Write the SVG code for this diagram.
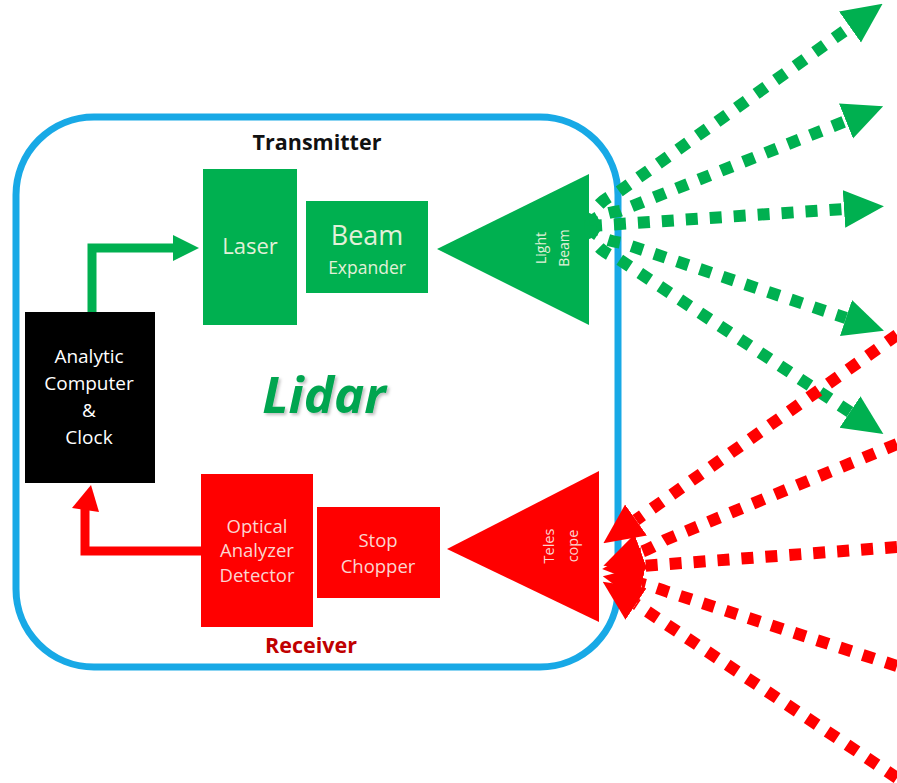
<svg xmlns="http://www.w3.org/2000/svg" width="897" height="783" viewBox="0 0 897 783">
  <style>
    .lbl { font-family: "Open Sans", "Noto Sans", "Liberation Sans", sans-serif; text-anchor: middle; }
    .gtxt { fill: #E2F0D9; }
    .rtxt { fill: #FBD5D0; }
    .wtxt { fill: #FFFFFF; }
    .green { fill: #00B050; }
    .red { fill: #FF0000; }
    .beam-out { fill: none; stroke: #00B050; stroke-width: 12; stroke-dasharray: 12 12; marker-end: url(#gHead); }
    .beam-in { fill: none; stroke: #FF0000; stroke-width: 12; stroke-dasharray: 12 12; marker-end: url(#rHead); }
  </style>
  <defs>
    <marker id="gHead" markerUnits="userSpaceOnUse" markerWidth="40" markerHeight="40" refX="0" refY="17" orient="auto" viewBox="0 0 36 34">
      <path d="M0,0 L36,17 L0,34 Z" fill="#00B050"/>
    </marker>
    <marker id="rHead" markerUnits="userSpaceOnUse" markerWidth="40" markerHeight="40" refX="0" refY="17" orient="auto" viewBox="0 0 36 34">
      <path d="M0,0 L36,17 L0,34 Z" fill="#FF0000"/>
    </marker>
    <filter id="soft" x="-10%" y="-20%" width="130%" height="150%">
      <feDropShadow dx="2" dy="2" stdDeviation="1.5" flood-color="#000" flood-opacity="0.25"/>
    </filter>
  </defs>

  <rect width="897" height="783" fill="#FFFFFF"/>

  <!-- enclosing frame -->
  <g id="frame">
    <rect x="16" y="117" width="602" height="550" rx="78" ry="78" fill="none" stroke="#18A9E6" stroke-width="7"/>
  </g>

  <!-- section titles -->
  <g id="titles">
    <text class="lbl" x="317" y="150" font-size="21.5" font-weight="bold" fill="#111">Transmitter</text>
    <text class="lbl" x="311" y="653" font-size="21.5" font-weight="bold" fill="#C00000">Receiver</text>
    <text class="lbl" x="324" y="413" font-size="51" font-weight="bold" font-style="italic" fill="#00A550" filter="url(#soft)">Lidar</text>
  </g>

  <!-- transmitter chain -->
  <g id="laser">
    <rect class="green" x="203" y="169" width="94" height="156"/>
    <text class="lbl gtxt" x="250" y="254" font-size="22">Laser</text>
  </g>
  <g id="beam-expander">
    <rect class="green" x="306" y="201" width="122" height="92"/>
    <text class="lbl gtxt" x="367" y="245" font-size="27">Beam</text>
    <text class="lbl gtxt" x="367" y="274" font-size="17.5">Expander</text>
  </g>
  <g id="light-beam">
    <polygon class="green" points="437,249 589,174 589,325"/>
    <text class="lbl gtxt" font-size="14" dominant-baseline="central" transform="translate(540,248) rotate(-90)">Light</text>
    <text class="lbl gtxt" font-size="14" dominant-baseline="central" transform="translate(563,248) rotate(-90)">Beam</text>
  </g>

  <!-- controller -->
  <g id="computer">
    <rect x="25" y="312" width="130" height="171" fill="#000"/>
    <text class="lbl wtxt" x="89" y="363" font-size="19">Analytic</text>
    <text class="lbl wtxt" x="89" y="390" font-size="19">Computer</text>
    <text class="lbl wtxt" x="89" y="417" font-size="19">&amp;</text>
    <text class="lbl wtxt" x="89" y="444" font-size="19">Clock</text>
  </g>

  <!-- receiver chain -->
  <g id="detector">
    <rect class="red" x="201" y="474" width="112" height="153"/>
    <text class="lbl rtxt" x="257" y="533" font-size="18.5">Optical</text>
    <text class="lbl rtxt" x="257" y="557" font-size="18.5">Analyzer</text>
    <text class="lbl rtxt" x="257" y="582" font-size="18.5">Detector</text>
  </g>
  <g id="stop-chopper">
    <rect class="red" x="317" y="507" width="123" height="91"/>
    <text class="lbl rtxt" x="378" y="547" font-size="18.5">Stop</text>
    <text class="lbl rtxt" x="378" y="573" font-size="18.5">Chopper</text>
  </g>
  <g id="telescope">
    <polygon class="red" points="447,549 599,471 599,622"/>
    <text class="lbl rtxt" font-size="14.5" dominant-baseline="central" transform="translate(548,546) rotate(-90)">Teles</text>
    <text class="lbl rtxt" font-size="14.5" dominant-baseline="central" transform="translate(572,546) rotate(-90)">cope</text>
  </g>

  <!-- connectors -->
  <g id="connectors">
    <!-- control signal to laser -->
    <polyline points="92,312 92,248 176,248" fill="none" stroke="#00B050" stroke-width="9"/>
    <polygon class="green" points="173,235 199,248 173,261"/>
    <!-- detector output to computer -->
    <polyline points="201,551 85,551 85,508" fill="none" stroke="#FF0000" stroke-width="9"/>
    <polygon class="red" points="91,485 72,508 99,512"/>

    <!-- outgoing beams -->
    <path class="beam-out" d="M590,226 C590,212 600,200 617,193 L850,27"/>
    <path class="beam-out" d="M590,226 C592,218 603,213 620,211 L846,121"/>
    <path class="beam-out" d="M590,226 L844,209"/>
    <path class="beam-out" d="M590,226 C592,234 603,240 622,243 L846,318"/>
    <path class="beam-out" d="M590,226 C590,240 600,252 617,258 L850,412"/>

    <!-- returning echoes -->
    <path class="beam-in" d="M897,335 L636,520"/>
    <path class="beam-in" d="M897,444 L665,540 Q652,548 641,552"/>
    <path class="beam-in" d="M897,547 L642,566"/>
    <path class="beam-in" d="M897,666 L668,592 Q652,586 642,584"/>
    <path class="beam-in" d="M897,778 L636,604"/>
  </g>
</svg>
